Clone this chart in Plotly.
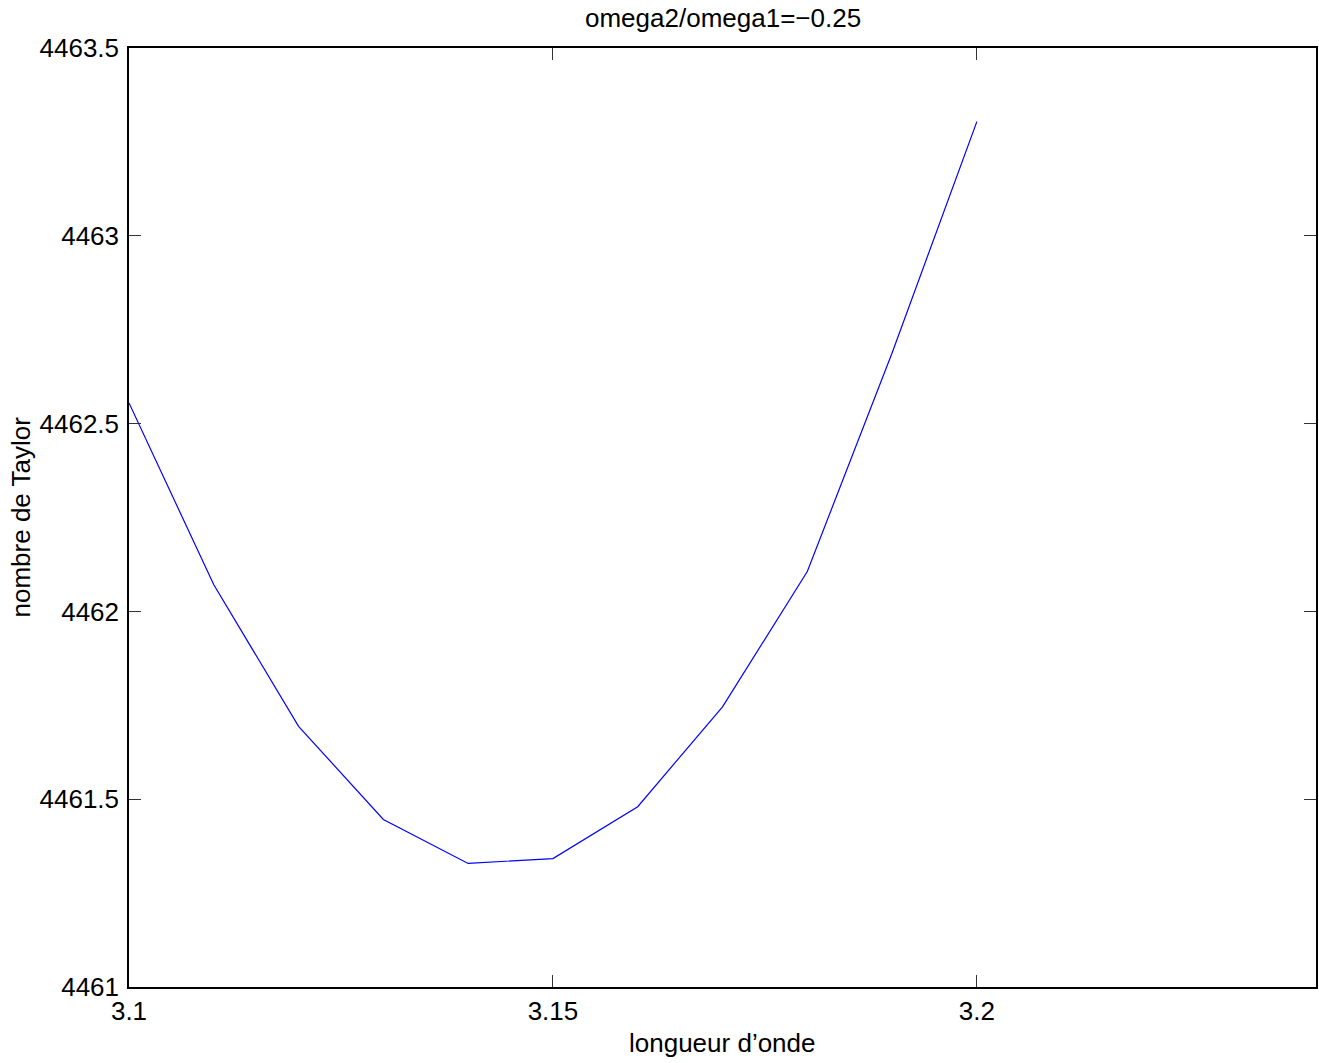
import plotly.graph_objects as go

wavelength = [3.10, 3.11, 3.12, 3.13, 3.14, 3.15, 3.16, 3.17, 3.18, 3.19, 3.20]
taylor = [4462.555, 4462.071, 4461.694, 4461.446, 4461.329, 4461.342,
          4461.480, 4461.746, 4462.106, 4462.688, 4463.304]

x_ticks = [3.1, 3.15, 3.2]
x_ticktext = ["3.1", "3.15", "3.2"]
y_ticks = [4461, 4461.5, 4462, 4462.5, 4463, 4463.5]
y_ticktext = ["4461", "4461.5", "4462", "4462.5", "4463", "4463.5"]

title_text = "omega2/omega1=\u22120.25"
x_title = "longueur d\u2019onde"
y_title = "nombre de Taylor"

FONT = "Liberation Sans, Arial, Helvetica, sans-serif"
FS = 26

fig = go.Figure()
fig.add_trace(go.Scatter(x=wavelength, y=taylor, mode="lines",
                         line=dict(color="#0000ff", width=1.2),
                         showlegend=False, hoverinfo="skip"))

axis_common = dict(showline=True, linecolor="black", linewidth=1.5, mirror="ticks",
                   ticks="inside", ticklen=12, tickwidth=1, tickcolor="#333333",
                   showgrid=False, zeroline=False,
                   tickfont=dict(family=FONT, size=FS, color="black"))

fig.update_layout(
    width=1319, height=1063,
    margin=dict(l=129, r=1, t=48, b=76, pad=0),
    paper_bgcolor="white", plot_bgcolor="white",
    xaxis=dict(range=[3.1, 3.24], tickvals=x_ticks, ticktext=x_ticktext, **axis_common),
    yaxis=dict(range=[4461, 4463.5], tickvals=y_ticks, ticktext=y_ticktext,
               ticklabelstandoff=3, **axis_common),
    annotations=[
        dict(text=title_text, xref="paper", yref="paper", x=0.5, y=1, yshift=30,
             xanchor="center", yanchor="middle", showarrow=False,
             font=dict(family=FONT, size=FS, color="black")),
        dict(text=x_title, xref="paper", yref="paper", x=0.5, y=0, yshift=-56,
             xanchor="center", yanchor="middle", showarrow=False,
             font=dict(family=FONT, size=FS, color="black")),
        dict(text=y_title, xref="paper", yref="paper", x=0, y=0.5, xshift=-109,
             xanchor="center", yanchor="middle", textangle=-90, showarrow=False,
             font=dict(family=FONT, size=FS, color="black")),
    ],
)

fig.write_html("out.html")
